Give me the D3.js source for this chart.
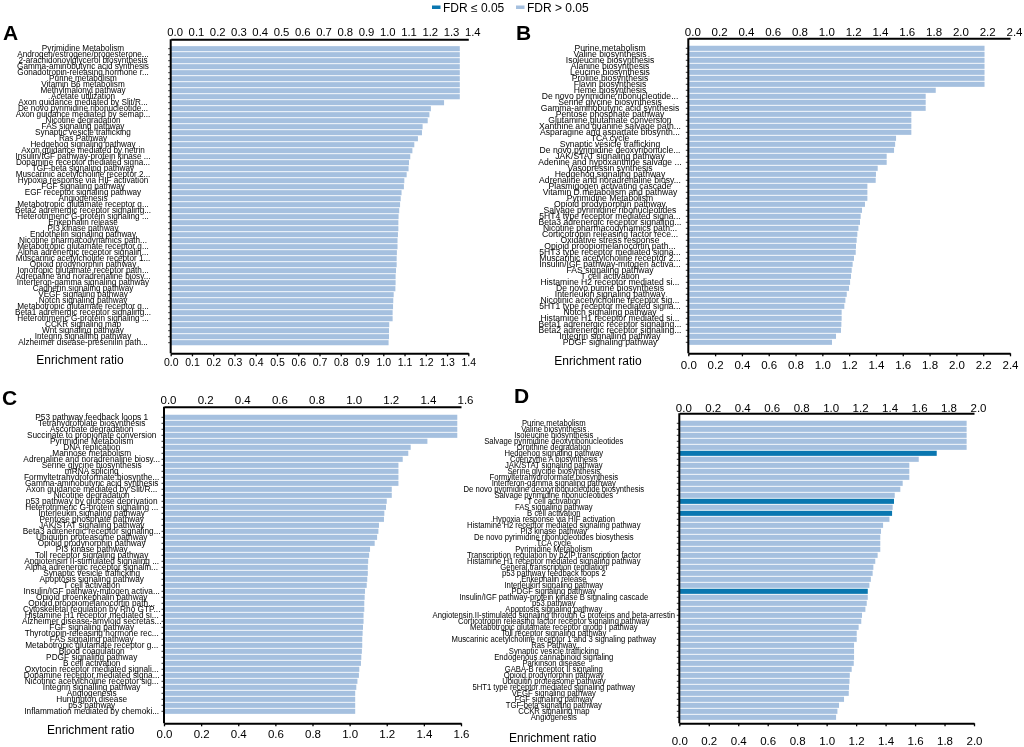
<!DOCTYPE html>
<html><head><meta charset="utf-8">
<script src="https://cdn.jsdelivr.net/npm/d3@7"></script>
<style>body{margin:0;background:#fff} svg{will-change:transform} text{font-family:"Liberation Sans",Arial,Helvetica,sans-serif;fill:#000}</style>
</head><body>
<svg id="c" width="1024" height="747"></svg>
<script>
const labelsA = ["Pyrimidine Metabolism","Androgen/estrogene/progesterone...","2-arachidonoylglycerol biosynthesis","Gamma-aminobutyric acid synthesis","Gonadotropin-releasing hormone r...","Purine metabolism","Vitamin B6 metabolism","Methylmalonyl pathway","Acetate utilization","Axon guidance mediated by Slit/R...","De novo pyrimidine ribonucleotide...","Axon guidance mediated by semap...","Nicotine degradation","FAS signaling pathway","Synaptic vesicle trafficking","Ras Pathway","Hedgehog signaling pathway","Axon guidance mediated by netrin","Insulin/IGF pathway-protein kinase ...","Dopamine receptor mediated signa...","TGF-beta signaling pathway","Muscarinic acetylcholine receptor 2...","Hypoxia response via HIF activation","FGF signaling pathway","EGF receptor signaling pathway","Angiogenesis","Metabotropic glutamate receptor g...","Beta2 adrenergic receptor signaling...","Heterotrimeric G-protein signaling ...","Enkephalin release","PI3 kinase pathway","Endothelin signaling pathway","Nicotine pharmacodynamics path...","Metabotropic glutamate receptor g...","Alpha adrenergic receptor signalin...","Muscarinic acetylcholine receptor 1...","Opioid prodynorphin pathway","Ionotropic glutamate receptor path...","Adrenaline and noradrenaline biosy...","Interferon-gamma signaling pathway","Cadherin signaling pathway","VEGF signaling pathway","Notch signaling pathway","Metabotropic glutamate receptor g...","Beta1 adrenergic receptor signaling...","Heterotrimeric G-protein signaling ...","CCKR signaling map","Wnt signaling pathway","Integrin signalling pathway","Alzheimer disease-presenilin path..."];
const valuesA = [1.36,1.36,1.36,1.36,1.36,1.36,1.36,1.36,1.36,1.286,1.224,1.217,1.209,1.185,1.182,1.163,1.146,1.137,1.127,1.121,1.119,1.110,1.099,1.097,1.086,1.082,1.079,1.075,1.072,1.071,1.071,1.069,1.067,1.067,1.064,1.063,1.063,1.060,1.058,1.058,1.057,1.049,1.047,1.046,1.044,1.044,1.028,1.027,1.027,1.025];

const labelsB = ["Purine metabolism","Valine biosynthesis","Isoleucine biosynthesis","Alanine biosynthesis","Leucine biosynthesis","Proline biosynthesis","Flavin biosynthesis","Heme biosynthesis","De novo pyrimidine ribonucleotide...","Serine glycine biosynthesis","Gamma-aminobutyric acid synthesis","Pentose phosphate pathway","Glutamine glutamate conversion","Xanthine and guanine salvage path...","Asparagine and aspartate biosynth...","TCA cycle","Synaptic vesicle trafficking","De novo pyrimidine deoxyribonucle...","JAK/STAT signaling pathway","Adenine and hypoxanthine salvage ...","Vasopressin synthesis","Hedgehog signaling pathway","Adrenaline and noradrenaline biosy...","Plasmigogen activating cascade","Vitamin D metabolism and pathway","Pyrimidine Metabolism","Opioid prodynorphin pathway","Salvage pyrimidine ribonucleotides","5HT4 type receptor mediated signa...","Beta3 adrenergic receptor signaling...","Nicotine pharmacodynamics path...","Corticotropin releasing factor rece...","Oxidative stress response","Opioid proopiomelanocortin path...","5HT3 type receptor mediated signa...","Muscarinic acetylcholine receptor 2...","Insulin/IGF pathway-mitogen activa...","FAS signaling pathway","T cell activation","Histamine H2 receptor mediated si...","De novo purine biosynthesis","Interleukin signaling pathway","Nicotinic acetylcholine receptor sig...","5HT1 type receptor mediated signa...","Notch signaling pathway","Histamine H1 receptor mediated si...","Beta1 adrenergic receptor signaling...","Beta2 adrenergic receptor signaling...","Integrin signalling pathway","PDGF signaling pathway"];
const valuesB = [2.21,2.21,2.21,2.21,2.21,2.21,2.21,1.846,1.771,1.771,1.771,1.664,1.664,1.664,1.664,1.55,1.543,1.535,1.48,1.48,1.413,1.40,1.398,1.336,1.336,1.336,1.318,1.296,1.286,1.281,1.269,1.261,1.256,1.251,1.249,1.236,1.226,1.219,1.214,1.207,1.199,1.182,1.172,1.164,1.144,1.144,1.142,1.139,1.102,1.072];

const labelsC = ["P53 pathway feedback loops 1","Tetrahydrofolate biosynthesis","Ascorbate degradation","Succinate to propionate conversion","Pyrimidine Metabolism","DNA replication","Mannose metabolism","Adrenaline and noradrenaline biosy...","Serine glycine biosynthesis","mRNA splicing","Formyltetrahydroformate biosynthe...","Gamma-aminobutyric acid synthesis","Axon guidance mediated by Slit/R...","Nicotine degradation","p53 pathway by glucose deprivation","Heterotrimeric G-protein signaling ...","Interleukin signaling pathway","Pentose phosphate pathway","JAK/STAT signaling pathway","Beta3 adrenergic receptor signaling...","Ubiquitin proteasome pathway","Opioid prodynorphin pathway","PI3 kinase pathway","Toll receptor signaling pathway","Angiotensin II-stimulated signaling ...","Alpha adrenergic receptor signalin...","Synaptic vesicle trafficking","Apoptosis signaling pathway","T cell activation","Insulin/IGF pathway-mitogen activa...","Opioid proenkephalin pathway","Opioid proopiomelanocortin path...","Cytoskeletal regulation by Rho GTP...","Histamine H1 receptor mediated si...","Alzheimer disease-amyloid secretas...","FGF signaling pathway","Thyrotropin-releasing hormone rec...","FAS signaling pathway","Metabotropic glutamate receptor g...","Blood coagulation","PDGF signaling pathway","B cell activation","Oxytocin receptor mediated signali...","Dopamine receptor mediated signa...","Nicotinic acetylcholine receptor sig...","Integrin signalling pathway","Angiogenesis","Huntington disease","p53 pathway","Inflammation mediated by chemoki..."];
const valuesC = [1.58,1.58,1.58,1.58,1.419,1.329,1.316,1.286,1.263,1.263,1.263,1.263,1.227,1.227,1.20,1.196,1.187,1.185,1.158,1.155,1.148,1.135,1.11,1.105,1.10,1.098,1.098,1.095,1.092,1.083,1.081,1.079,1.079,1.075,1.075,1.072,1.070,1.068,1.068,1.066,1.063,1.061,1.052,1.050,1.042,1.036,1.03,1.03,1.03,1.03];

const labelsD = ["Purine metabolism","Valine biosynthesis","Isoleucine biosynthesis","Salvage pyrimidine deoxyribonucleotides","Ornithine degradation","Hedgehog signaling pathway","Coenzyme A biosynthesis","JAK/STAT signaling pathway","Serine glycine biosynthesis","Formyltetrahydroformate biosynthesis","Interferon-gamma signaling pathway","De novo pyrimidine deoxyribonucleotide biosynthesis","Salvage pyrimidine ribonucleotides","T cell activation","FAS signaling pathway","B cell activation","Hypoxia response via HIF activation","Histamine H2 receptor mediated signaling pathway","PI3 kinase pathway","De novo pyrimidine ribonucleotides biosythesis","TCA cycle","Pyrimidine Metabolism","Transcription regulation by bZIP transcription factor","Histamine H1 receptor mediated signaling pathway","General transcription regulation","p53 pathway feedback loops 2","Enkephalin release","Interleukin signaling pathway","PDGF signaling pathway","Insulin/IGF pathway-protein kinase B signaling cascade","p53 pathway","Apoptosis signaling pathway","Angiotensin II-stimulated signaling through G proteins and beta-arrestin","Corticotropin releasing factor receptor signaling pathway","Metabotropic glutamate receptor group I pathway","Toll receptor signaling pathway","Muscarinic acetylcholine receptor 1 and 3 signaling pathway","Ras Pathway","Synaptic vesicle trafficking","Endogenous cannabinoid signaling","Parkinson disease","GABA-B receptor II signaling","Opioid prodynorphin pathway","Ubiquitin proteasome pathway","5HT1 type receptor mediated signaling pathway","VEGF signaling pathway","FGF signaling pathway","TGF-beta signaling pathway","CCKR signaling map","Angiogenesis"];
const valuesD = [1.95,1.95,1.95,1.95,1.95,1.747,1.625,1.561,1.561,1.561,1.516,1.50,1.462,1.457,1.448,1.444,1.426,1.383,1.369,1.364,1.364,1.364,1.346,1.33,1.317,1.312,1.30,1.29,1.279,1.279,1.272,1.263,1.24,1.235,1.217,1.204,1.204,1.186,1.186,1.186,1.184,1.17,1.157,1.155,1.152,1.15,1.118,1.084,1.073,1.064];
const sigD = ["Hedgehog signaling pathway","T cell activation","B cell activation","PDGF signaling pathway"];

const ticksA = [0,0.1,0.2,0.3,0.4,0.5,0.6,0.7,0.8,0.9,1.0,1.1,1.2,1.3,1.4];
const ticksB = [0,0.2,0.4,0.6,0.8,1.0,1.2,1.4,1.6,1.8,2.0,2.2,2.4];
const ticksC = [0,0.2,0.4,0.6,0.8,1.0,1.2,1.4,1.6];
const ticksD = [0,0.2,0.4,0.6,0.8,1.0,1.2,1.4,1.6,1.8,2.0];
const legendLabels = ["FDR \u2264 0.05","FDR > 0.05"];
const axisTitle = "Enrichment ratio";

const LIGHT = "#a5c0df", DARK = "#0a77b0";
const svg = d3.select("#c");

const panels = [
 {letter:"A", labels:labelsA, values:valuesA, sig:[], ticks:ticksA, max:1.4, x0:170.7, x1:468.3, yTop:39.3, yBot:353.3, band:[45.7,345.7], labelX:83, labelFont:8.2, tickFont:10.5, topFont:11.3, topPad:3.5, botPad:2.5, titleX:80, titleY:364, lx:3, ly:40},
 {letter:"B", labels:labelsB, values:valuesB, sig:[], ticks:ticksB, max:2.4, x0:688.3, x1:1010, yTop:38.3, yBot:353.3, band:[45.3,345.3], labelX:610, labelFont:8.6, tickFont:11.5, topFont:11.5, topPad:2, botPad:4.5, titleX:598, titleY:365, lx:516, ly:40},
 {letter:"C", labels:labelsC, values:valuesC, sig:[], ticks:ticksC, max:1.6, x0:164, x1:461, yTop:406.7, yBot:723.3, band:[414.3,714.3], labelX:91.7, labelFont:8.3, tickFont:11.5, topFont:11.5, topPad:2.7, botPad:3.5, titleX:90.7, titleY:734, lx:2, ly:405},
 {letter:"D", labels:labelsD, values:valuesD, sig:sigD, ticks:ticksD, max:2.0, x0:679.3, x1:974, yTop:413.3, yBot:723.3, band:[420.3,720.3], labelX:553.8, labelFont:7.7, tickFont:11.5, topFont:11.5, topPad:1.8, botPad:11, titleX:552.7, titleY:742, lx:514, ly:403}
];

panels.forEach(p => {
  const g = svg.append("g");
  const x = d3.scaleLinear().domain([0, p.max]).range([p.x0, p.x1]);
  const y = d3.scaleBand().domain(d3.range(p.labels.length)).range(p.band).paddingInner(0.15).paddingOuter(0.075);

  g.selectAll("rect.bar").data(p.values).join("rect")
    .attr("class","bar")
    .attr("x", x(0))
    .attr("y", (d,i) => y(i))
    .attr("width", d => x(d) - x(0))
    .attr("height", y.bandwidth())
    .attr("fill", (d,i) => p.sig.includes(p.labels[i]) ? DARK : LIGHT);

  g.selectAll("text.lab").data(p.labels).join("text")
    .attr("class","lab")
    .attr("transform", (d,i) => `translate(${p.labelX},${y(i) + y.bandwidth()/2 + p.labelFont*0.33}) scale(1,1.12)`)
    .attr("text-anchor","middle")
    .style("font-size", p.labelFont + "px")
    .text(d => d);

  g.append("line").attr("x1", x(0)).attr("x2", x(0)).attr("y1", p.yTop).attr("y2", p.yBot)
    .attr("stroke","#000").attr("stroke-width",2);
  g.selectAll("line.rt").data(p.labels).join("line").attr("class","rt")
    .attr("x1", x(0)-2.5).attr("x2", x(0))
    .attr("y1",(d,i)=>y(i)+y.bandwidth()/2).attr("y2",(d,i)=>y(i)+y.bandwidth()/2)
    .attr("stroke","#000").attr("stroke-width",0.8);

  const fmt = d3.format(".1f");
  const top = g.append("g").attr("transform",`translate(0,${p.yTop})`)
    .call(d3.axisTop(x).tickValues(p.ticks).tickFormat(fmt).tickSizeInner(0).tickSizeOuter(0).tickPadding(p.topPad));
  top.select(".domain").attr("stroke","#000").attr("stroke-width",2);
  top.selectAll("text").attr("dx", 4).style("font-size", p.topFont+"px").style("font-family",'"Liberation Sans",Arial,sans-serif').attr("fill","#000");

  const bot = g.append("g").attr("transform",`translate(0,${p.yBot})`)
    .call(d3.axisBottom(x).tickValues(p.ticks).tickFormat(fmt).tickSizeInner(3).tickSizeOuter(0).tickPadding(p.botPad));
  bot.select(".domain").attr("stroke","#000").attr("stroke-width",2);
  bot.selectAll(".tick line").attr("stroke","#000").attr("stroke-width",1.3);
  bot.selectAll("text").style("font-size", p.tickFont+"px").style("font-family",'"Liberation Sans",Arial,sans-serif').attr("fill","#000");

  g.append("text").attr("x", p.titleX).attr("y", p.titleY).attr("text-anchor","middle")
    .style("font-size","12px").text(axisTitle);

  g.append("text").attr("x", p.lx).attr("y", p.ly).style("font-size","21px").style("font-weight","bold").text(p.letter);
});

const legend = svg.append("g");
const legX = [432, 516];
legendLabels.forEach((t,i) => {
  legend.append("rect").attr("x", legX[i]).attr("y", 5.5).attr("width", 8.5).attr("height", 3.5)
    .attr("fill", i === 0 ? DARK : LIGHT);
  legend.append("text").attr("x", legX[i] + 11).attr("y", 12).style("font-size","12px").text(t);
});
</script>
</body></html>
